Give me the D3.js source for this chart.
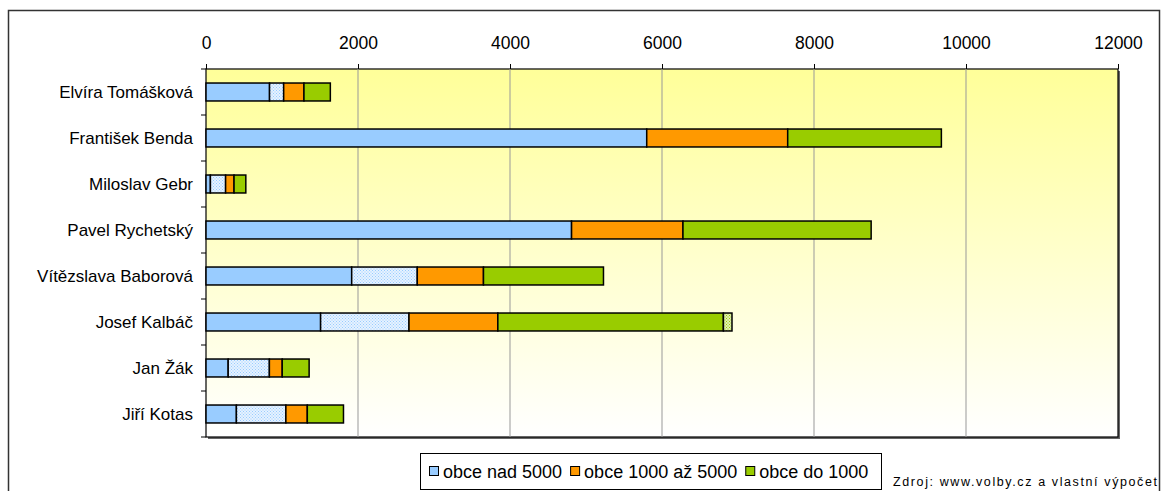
<!DOCTYPE html>
<html>
<head>
<meta charset="utf-8">
<script src="https://cdn.jsdelivr.net/npm/d3@7"></script>
<style>
  body { margin: 0; background: #fff; }
  svg { font-family: "Liberation Sans", Arial, sans-serif; }
</style>
</head>
<body>
<div id="chart"></div>
<script>
// candidates, top to bottom
const names = ["Elvíra Tomášková", "František Benda", "Miloslav Gebr", "Pavel Rychetský",
  "Vítězslava Baborová", "Josef Kalbáč", "Jan Žák", "Jiří Kotas"];
// stacked segments (votes)
const nad5000 = [836, 5799, 58, 4810, 1917, 1508, 292, 400];
const nad5000Sraf = [186, 0, 200, 0, 863, 1163, 542, 651];   // hatched blue part
const obce1000az5000 = [267, 1855, 111, 1466, 871, 1169, 169, 282];
const do1000 = [347, 2022, 155, 2476, 1579, 2968, 354, 476];
const do1000Sraf = [0, 0, 0, 0, 0, 113, 0, 0];                // hatched green part
const xTicks = [0, 2000, 4000, 6000, 8000, 10000, 12000];
const legendLabels = ["obce nad 5000", "obce 1000 až 5000", "obce do 1000"];

const keys = ["a", "ah", "b", "c", "ch"];
const fills = { a: "#99CCFF", ah: "url(#hBlue)", b: "#FF9900", c: "#99CC00", ch: "url(#hGreen)" };
const rows = names.map((n, i) => ({ name: n, a: nad5000[i], ah: nad5000Sraf[i], b: obce1000az5000[i], c: do1000[i], ch: do1000Sraf[i] }));
const series = d3.stack().keys(keys)(rows);

const W = 1162, H = 491;
const svg = d3.select("#chart").append("svg").attr("width", W).attr("height", H);
const defs = svg.append("defs");

const grad = defs.append("linearGradient").attr("id", "bg").attr("x1", 0).attr("y1", 0).attr("x2", 0).attr("y2", 1);
grad.append("stop").attr("offset", "0%").attr("stop-color", "#FFFF99");
grad.append("stop").attr("offset", "100%").attr("stop-color", "#FFFFFF");

function hatch(id, bg, fg) {
  const p = defs.append("pattern").attr("id", id).attr("width", 3).attr("height", 3).attr("patternUnits", "userSpaceOnUse");
  p.append("rect").attr("width", 3).attr("height", 3).attr("fill", bg);
  p.append("rect").attr("width", 1).attr("height", 1).attr("fill", fg);
  p.append("rect").attr("x", 1.5).attr("y", 1.5).attr("width", 1).attr("height", 1).attr("fill", fg);
}
hatch("hBlue", "#E6F2FF", "#99CCFF");
hatch("hGreen", "#E0F0B0", "#99CC00");

// outer chart frame
svg.append("rect").attr("x", 8.5).attr("y", 10.5).attr("width", 1151).attr("height", 500)
  .attr("fill", "none").attr("stroke", "#333").attr("stroke-width", 1.5);

const pLeft = 206, pRight = 1118, pTop = 69, pBottom = 437;
const x = d3.scaleLinear().domain([0, 12000]).range([pLeft, pRight]);
const y = d3.scaleBand().domain(names).range([pTop, pBottom]).paddingInner(0.61).paddingOuter(0.305);

// plot area with shadow
svg.append("rect").attr("x", pLeft + 2).attr("y", pTop + 2).attr("width", pRight - pLeft).attr("height", pBottom - pTop).attr("fill", "#666");
svg.append("rect").attr("x", pLeft).attr("y", pTop).attr("width", pRight - pLeft).attr("height", pBottom - pTop)
  .attr("fill", "url(#bg)").attr("stroke", "#000").attr("stroke-width", 1.2);

// gridlines
svg.append("g").selectAll("line").data(xTicks.slice(1, -1)).join("line")
  .attr("x1", d => x(d)).attr("x2", d => x(d)).attr("y1", pTop).attr("y2", pBottom)
  .attr("stroke", "#999").attr("stroke-width", 1);

// top axis
const xAxis = svg.append("g").attr("transform", `translate(0,${pTop})`)
  .call(d3.axisTop(x).tickValues(xTicks).tickSize(5).tickPadding(15).tickFormat(d3.format("d")));
xAxis.select(".domain").remove();
xAxis.selectAll("line").attr("stroke", "#000");
xAxis.selectAll("text").attr("font-size", 17.5).attr("fill", "#000").attr("font-family", "Liberation Sans, Arial, sans-serif");

// left axis: ticks at category boundaries
const step = y.step();
svg.append("g").selectAll("line").data(d3.range(names.length + 1)).join("line")
  .attr("x1", pLeft - 5).attr("x2", pLeft).attr("y1", i => pTop + i * step).attr("y2", i => pTop + i * step)
  .attr("stroke", "#000");
svg.append("g").selectAll("text").data(names).join("text")
  .attr("x", 193).attr("y", d => y(d) + y.bandwidth() / 2).attr("dy", "0.36em")
  .attr("text-anchor", "end").attr("font-size", 17).attr("fill", "#000").text(d => d);

// bars
svg.append("g").selectAll("g").data(series).join("g")
  .attr("fill", s => fills[s.key])
  .selectAll("rect").data(s => s.filter(d => d[1] > d[0])).join("rect")
  .attr("x", d => x(d[0])).attr("y", d => y(d.data.name))
  .attr("width", d => x(d[1]) - x(d[0])).attr("height", y.bandwidth())
  .attr("stroke", "#000").attr("stroke-width", 1.5);

// legend - items laid out one after another by measured text width
const lg = svg.append("g");
lg.append("rect").attr("x", 420.5).attr("y", 453.5).attr("width", 461).attr("height", 36)
  .attr("fill", "#fff").attr("stroke", "#000");
const lcol = ["#99CCFF", "#FF9900", "#99CC00"];
let cx = 429;
legendLabels.forEach((t, i) => {
  lg.append("rect").attr("x", cx + 0.5).attr("y", 466.5).attr("width", 9).attr("height", 9)
    .attr("fill", lcol[i]).attr("stroke", "#000");
  const txt = lg.append("text").attr("x", cx + 14).attr("y", 478).attr("font-size", 18).text(t);
  cx += 14 + txt.node().getComputedTextLength() + 8;
});

// source
svg.append("text").attr("x", 893).attr("y", 486).attr("font-size", 12.5)
  .attr("textLength", 264).attr("lengthAdjust", "spacing")
  .text("Zdroj: www.volby.cz a vlastní výpočet");
</script>
</body>
</html>
